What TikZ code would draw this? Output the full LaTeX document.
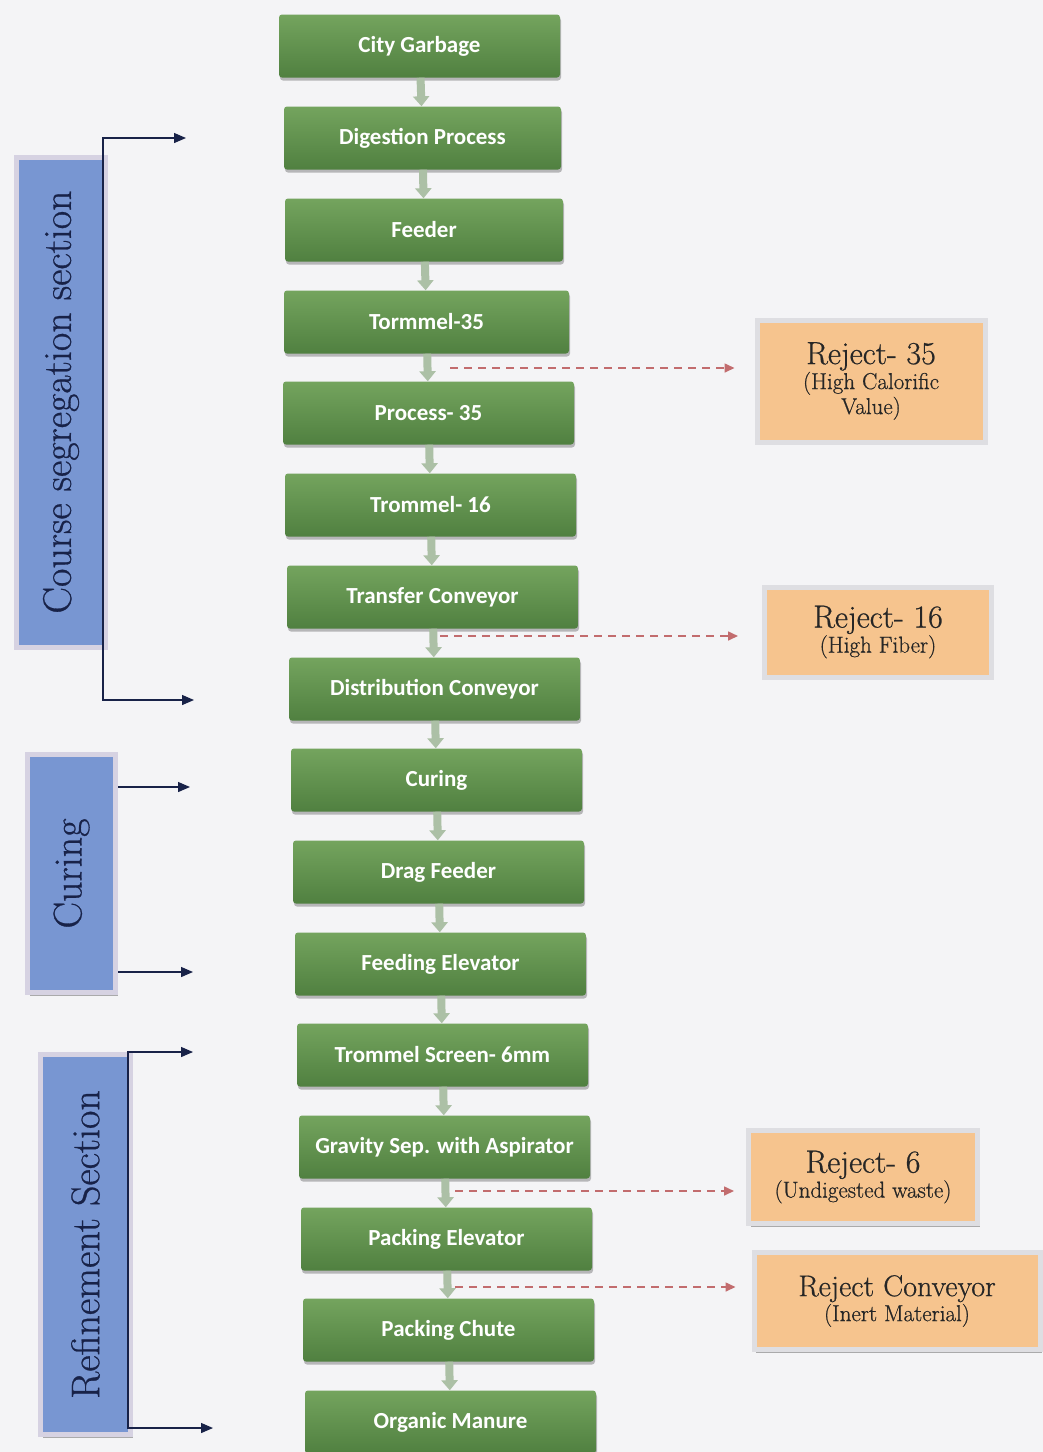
\documentclass[tikz,border=0pt]{standalone}
\usepackage{fontspec}
\newfontfamily\calfont{Carlito}
\newfontfamily\heavyserif[FakeBold=0.7]{Latin Modern Roman}
\usetikzlibrary{arrows.meta,shadows,calc}

\definecolor{paper}{RGB}{244,244,246}
\definecolor{gtop}{RGB}{116,164,94}
\definecolor{gbot}{RGB}{80,128,64}
\definecolor{flowgray}{RGB}{172,192,166}
\definecolor{peach}{RGB}{246,196,142}
\definecolor{framegray}{RGB}{222,222,226}
\definecolor{secblue}{RGB}{120,150,210}
\definecolor{secframe}{RGB}{214,210,226}
\definecolor{navy}{RGB}{24,34,72}
\definecolor{dashred}{RGB}{194,108,110}

\begin{document}
\begin{tikzpicture}[
    x=1pt, y=-1pt,
    stage/.style={rectangle, rounded corners=3pt, minimum height=63pt, inner sep=0pt,
        top color=gtop, bottom color=gbot, text=white,
        font=\calfont\bfseries\fontsize{23}{26}\selectfont,
        drop shadow={shadow xshift=1pt, shadow yshift=-3pt, fill=black, opacity=0.25}},
    reject/.style={rectangle, fill=peach, draw=framegray, line width=5pt, inner sep=0pt,
        align=center, text=black!85, font=\heavyserif\fontsize{23}{25}\selectfont,
        drop shadow={shadow xshift=2pt, shadow yshift=-3pt, fill=black, opacity=0.3}},
    section/.style={rectangle, fill=secblue, draw=secframe, line width=5pt, inner sep=0pt,
        text=navy, font=\heavyserif\fontsize{40}{44}\selectfont,
        drop shadow={shadow xshift=2pt, shadow yshift=-3pt, fill=black, opacity=0.3}},
    flow/.style={-{Triangle[length=10pt, width=16pt]}, line width=8pt, flowgray},
    rejflow/.style={-{Triangle[length=10pt, width=9pt]}, line width=1.6pt, dashred,
        dash pattern=on 8pt off 6pt},
    bracket/.style={line width=1.3pt, navy}
    ]

    \fill[paper] (0,0) rectangle (1043,1452);
    \useasboundingbox (0,0) rectangle (1043,1452);

    % main line
    \node[stage, minimum width=281pt] (b1) at (419.5,46) {City Garbage};
    \node[stage, minimum width=277pt] (b2) at (422.5,138) {Digestion Process};
    \node[stage, minimum width=278pt] (b3) at (424,230) {Feeder};
    \node[stage, minimum width=285pt] (b4) at (426.5,322) {Tormmel-35};
    \node[stage, minimum width=291pt] (b5) at (428.5,413) {Process- 35};
    \node[stage, minimum width=291pt] (b6) at (430.5,505) {Trommel- 16};
    \node[stage, minimum width=291pt] (b7) at (432.5,597) {Transfer Conveyor};
    \node[stage, minimum width=291pt] (b8) at (434.5,689) {Distribution Conveyor};
    \node[stage, minimum width=291pt] (b9) at (436.5,780) {Curing};
    \node[stage, minimum width=291pt] (b10) at (438.5,872) {Drag Feeder};
    \node[stage, minimum width=291pt] (b11) at (440.5,964) {Feeding Elevator};
    \node[stage, minimum width=291pt] (b12) at (442.5,1055) {Trommel Screen- 6mm};
    \node[stage, minimum width=291pt] (b13) at (444.5,1147) {Gravity Sep. with Aspirator};
    \node[stage, minimum width=291pt] (b14) at (446.5,1239) {Packing Elevator};
    \node[stage, minimum width=291pt] (b15) at (448.5,1330) {Packing Chute};
    \node[stage, minimum width=291pt] (b16) at (450.5,1422) {Organic Manure};

    \foreach \i [evaluate=\i as \j using int(\i+1)] in {1,...,15}
        \draw[flow] (b\i) -- (b\j);

    % rejects
    \node[reject, minimum width=228pt, minimum height=122pt] (r35) at (871,381)
        {{\fontsize{32}{32}\selectfont Reject- 35}\\(High Calorific\\Value)};
    \node[reject, minimum width=227pt, minimum height=90pt] (r16) at (878,632)
        {{\fontsize{32}{32}\selectfont Reject- 16}\\(High Fiber)};
    \node[reject, minimum width=229pt, minimum height=93pt] (r6) at (863,1177)
        {{\fontsize{32}{32}\selectfont Reject- 6}\\(Undigested waste)};
    \node[reject, minimum width=286pt, minimum height=97pt] (rc) at (897,1301)
        {{\fontsize{30}{30}\selectfont Reject Conveyor}\\(Inert Material)};

    \coordinate (t35) at (450,368);
    \coordinate (t16) at (440,636);
    \coordinate (t6) at (455,1191);
    \coordinate (tc) at (455,1287);
    \draw[rejflow, shorten >=20pt] (t35) -- (t35 -| r35.west);
    \draw[rejflow, shorten >=24pt] (t16) -- (t16 -| r16.west);
    \draw[rejflow, shorten >=12pt] (t6) -- (t6 -| r6.west);
    \draw[rejflow, shorten >=16pt] (tc) -- (tc -| rc.west);

    % sections
    \node[section, minimum width=89pt, minimum height=490pt] (cs) at (61,402)
        {\rotatebox{90}{Course segregation section}};
    \node[section, minimum width=88pt, minimum height=238pt] (cu) at (71.5,873.5)
        {\rotatebox{90}{Curing}};
    \node[section, minimum width=90pt, minimum height=380pt] (rs) at (85.5,1244.5)
        {\rotatebox{90}{Refinement Section}};

    \coordinate (cs-rail) at ([xshift=-5pt]cs.east);
    \coordinate (cs-in) at (186,138);
    \coordinate (cs-out) at (194,700);
    \draw[bracket, {Triangle[length=12pt,width=10pt]}-{Triangle[length=12pt,width=10pt]}]
        (cs-in) -- (cs-in -| cs-rail) -- (cs-out -| cs-rail) -- (cs-out);

    \coordinate (cu-in) at (190,787);
    \coordinate (cu-out) at (193,972);
    \draw[bracket, -{Triangle[length=12pt,width=10pt]}] (cu-in -| cu.east) -- (cu-in);
    \draw[bracket, -{Triangle[length=12pt,width=10pt]}] (cu-out -| cu.east) -- (cu-out);

    \coordinate (rs-rail) at ([xshift=-5pt]rs.east);
    \coordinate (rs-in) at (193,1052);
    \coordinate (rs-out) at (213,1428);
    \draw[bracket, {Triangle[length=12pt,width=10pt]}-{Triangle[length=12pt,width=10pt]}]
        (rs-in) -- (rs-in -| rs-rail) -- (rs-out -| rs-rail) -- (rs-out);

\end{tikzpicture}
\end{document}
